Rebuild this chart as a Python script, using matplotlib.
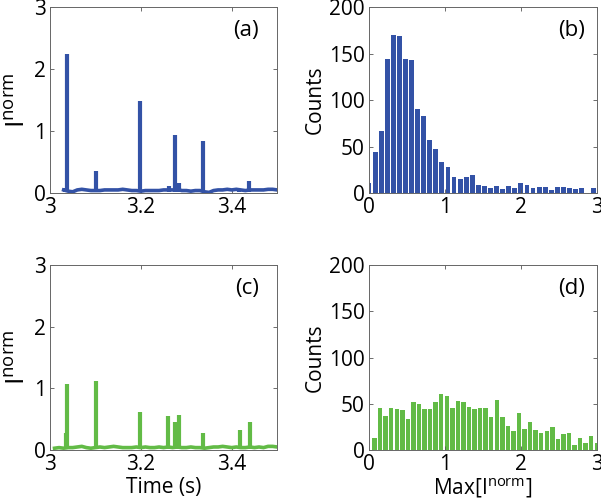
import numpy as np
import matplotlib.pyplot as plt

plt.rcParams['font.family'] = ['Open Sans', 'DejaVu Sans']
plt.rcParams['mathtext.default'] = 'regular'

blue = '#3352a6'
green = '#62bb46'

# (a) time trace: slow baseline + spikes
t_base_a = np.arange(3.03, 3.505, 0.01)
base_a = [0.05, 0.03, 0.02, 0.05, 0.06, 0.05, 0.04, 0.04, 0.04, 0.05,
          0.05, 0.05, 0.05, 0.06, 0.05, 0.04, 0.04, 0.03, 0.04, 0.04,
          0.04, 0.04, 0.05, 0.05, 0.05, 0.06, 0.04, 0.04, 0.03, 0.04,
          0.04, 0.02, 0.01, 0.04, 0.05, 0.05, 0.06, 0.05, 0.06, 0.05,
          0.04, 0.05, 0.05, 0.05, 0.05, 0.06, 0.06, 0.05]
spike_t_a = [3.033, 3.038, 3.102, 3.198, 3.261, 3.276, 3.283, 3.337, 3.416, 3.438]
spike_h_a = [0.08, 2.24, 0.35, 1.49, 0.12, 0.94, 0.16, 0.84, 0.07, 0.19]

# (c) time trace
t_base_c = np.arange(3.01, 3.505, 0.01)
base_c = [0.03, 0.04, 0.03, 0.04, 0.04, 0.05, 0.06, 0.04, 0.03, 0.04,
          0.05, 0.04, 0.05, 0.06, 0.05, 0.04, 0.04, 0.04, 0.05, 0.04,
          0.05, 0.04, 0.04, 0.05, 0.04, 0.05, 0.04, 0.05, 0.04, 0.04,
          0.05, 0.04, 0.04, 0.03, 0.04, 0.05, 0.05, 0.06, 0.05, 0.04,
          0.05, 0.04, 0.04, 0.05, 0.04, 0.05, 0.04, 0.06, 0.06, 0.05]
spike_t_c = [3.035, 3.038, 3.102, 3.198, 3.260, 3.275, 3.283, 3.337, 3.418, 3.440]
spike_h_c = [0.28, 1.07, 1.12, 0.62, 0.56, 0.45, 0.57, 0.27, 0.32, 0.46]

# (b) histogram counts, bin width 0.08 starting at 0
counts_b = [11, 44, 67, 144, 170, 169, 144, 143, 90, 83,
            57, 47, 33, 28, 17, 15, 17, 19, 9, 8,
            5, 8, 4, 8, 5, 11, 9, 5, 7, 7,
            3, 7, 7, 5, 4, 5, 0.5, 5]
# (d) histogram counts, 41 bins on (0, 3]
counts_d = [13, 46, 37, 45, 44, 43, 34, 52, 50, 44,
            44, 52, 61, 59, 45, 53, 52, 47, 44, 46,
            46, 36, 54, 36, 26, 21, 40, 23, 30, 22,
            19, 21, 25, 12, 17, 18, 6, 13, 8, 15, 8]

dw_b = 0.08
centers_b = np.arange(len(counts_b)) * dw_b
dw_d = 3.0 / len(counts_d)
centers_d = (np.arange(len(counts_d)) + 1) * dw_d

fig = plt.figure(figsize=(6.01, 5.04), dpi=100)
ax_a = fig.add_axes([0.0832, 0.617, 0.378, 0.369])
ax_b = fig.add_axes([0.614, 0.617, 0.379, 0.369])
ax_c = fig.add_axes([0.0832, 0.107, 0.378, 0.367])
ax_d = fig.add_axes([0.614, 0.107, 0.379, 0.367])


def style(ax):
    ax.tick_params(direction='in', length=3, width=0.6, top=True, right=True,
                   labelsize=15, pad=3, color='#555555')
    for s in ax.spines.values():
        s.set_linewidth(0.7)
        s.set_color('#666666')


def trace(ax, tb, vb, st, sh, col, tag, xlabel):
    ax.plot(tb, vb, color=col, lw=2.6, solid_joinstyle='miter')
    ax.vlines(st, 0.02, sh, color=col, lw=3.0)
    ax.set_xlim(3, 3.5)
    ax.set_ylim(0, 3)
    ax.set_xticks([3, 3.2, 3.4])
    ax.set_xticklabels(['3', '3.2', '3.4'])
    ax.set_yticks([0, 1, 2, 3])
    ax.set_ylabel('I$^{norm}$', fontsize=19, labelpad=2)
    ax.text(0.92, 0.93, tag, transform=ax.transAxes, ha='right', va='top', fontsize=16)
    if xlabel:
        ax.set_xlabel('Time (s)', fontsize=15, labelpad=1)
    style(ax)


def hist(ax, c, h, w, col, tag, xlabel):
    ax.bar(c, h, width=0.8 * w, color=col, linewidth=0)
    ax.set_xlim(0, 3)
    ax.set_ylim(0, 200)
    ax.set_xticks([0, 1, 2, 3])
    ax.set_yticks([0, 50, 100, 150, 200])
    ax.set_ylabel('Counts', fontsize=15, labelpad=2)
    ax.text(0.95, 0.93, tag, transform=ax.transAxes, ha='right', va='top', fontsize=16)
    if xlabel:
        ax.set_xlabel('Max[I$^{norm}$]', fontsize=15, labelpad=1)
    style(ax)


trace(ax_a, t_base_a, base_a, spike_t_a, spike_h_a, blue, '(a)', False)
trace(ax_c, t_base_c, base_c, spike_t_c, spike_h_c, green, '(c)', True)
hist(ax_b, centers_b, counts_b, dw_b, blue, '(b)', False)
hist(ax_d, centers_d, counts_d, dw_d, green, '(d)', True)

fig.savefig('out.png', dpi=100)
